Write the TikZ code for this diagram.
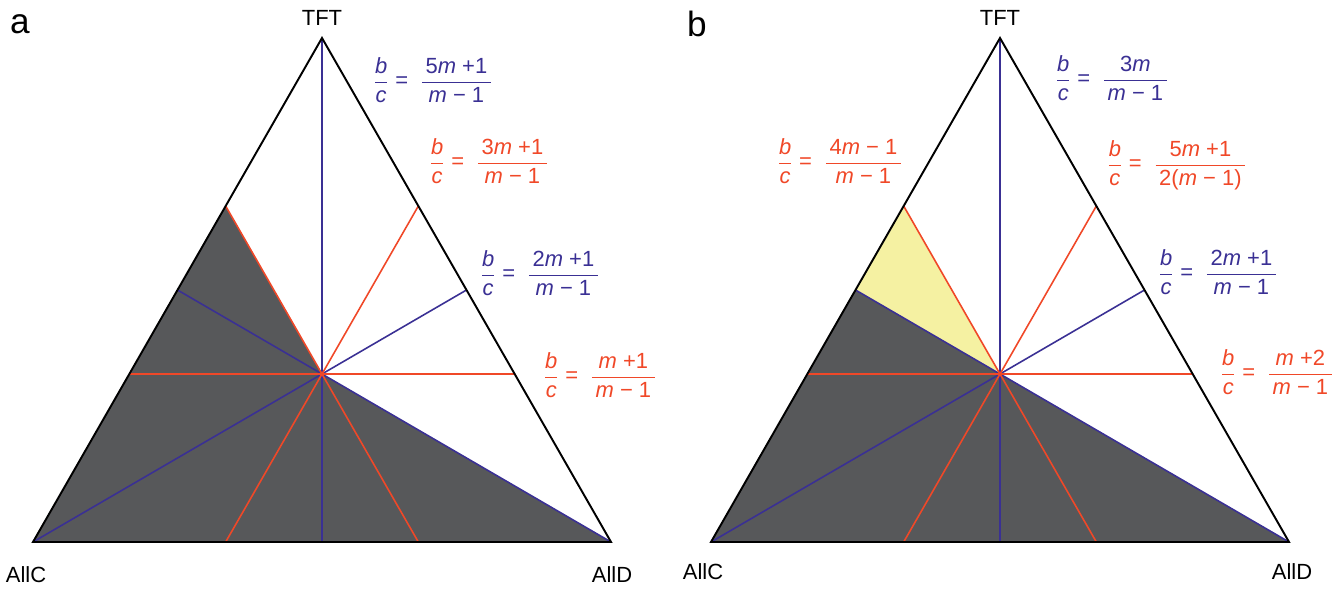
\documentclass[tikz,border=0pt]{standalone}
\usepackage{amsmath}
\usepackage{fontspec}
\setmainfont{Liberation Sans}
\usepackage{tikz}
\usetikzlibrary{calc}

\definecolor{medblue}{RGB}{58,48,148}
\definecolor{parred}{RGB}{240,72,40}
\definecolor{darkfill}{RGB}{87,88,90}
\definecolor{pale}{RGB}{245,241,162}

\newcommand{\bcratio}[2]{$\dfrac{\text{\itshape b}}{\text{\itshape c}}\;\text{=}\;\;\dfrac{\text{\,#1\,}}{\text{\,#2\,}}$}

\begin{document}
\begin{tikzpicture}[
    x=0.02cm, y=-0.02cm,
    side/.style={draw=black, line width=1.1pt, line join=miter},
    median/.style={draw=medblue, line width=0.9pt},
    parallel/.style={draw=parred, line width=0.9pt},
    vertex/.style={font=\fontsize{12.5}{15}\selectfont},
    panel/.style={font=\fontsize{20}{24}\selectfont},
    bluelab/.style={text=medblue, font=\fontsize{12.5}{15}\selectfont, inner sep=0pt},
    redlab/.style={text=parred, font=\fontsize{12.5}{15}\selectfont, inner sep=0pt}
]
\useasboundingbox (0,0) rectangle (1341,590);

% panel a
\coordinate (aT) at (322,38);
\coordinate (aC) at (33,542);
\coordinate (aD) at (611,542);
\coordinate (aO) at (barycentric cs:aT=1,aC=1,aD=1);
\fill[darkfill] (aC) -- ($(aC)!2/3!(aT)$) -- (aO) -- (aD) -- cycle;
\draw[median] (aT) -- ($(aC)!0.5!(aD)$);
\draw[median] (aC) -- ($(aD)!0.5!(aT)$);
\draw[median] (aD) -- ($(aC)!0.5!(aT)$);
\draw[parallel] ($(aC)!1/3!(aT)$) -- ($(aD)!1/3!(aT)$);
\draw[parallel] ($(aC)!2/3!(aT)$) -- ($(aC)!2/3!(aD)$);
\draw[parallel] ($(aD)!2/3!(aT)$) -- ($(aD)!2/3!(aC)$);
\draw[side] (aT) -- (aC) -- (aD) -- cycle;
\node[panel] (alab) at (20,24) {a};
\node[vertex] (aTFT) at (322,18) {TFT};
\node[vertex] (aAllC) at (26,575) {AllC};
\node[vertex] (aAllD) at (612,575) {AllD};
\node[bluelab] (aq1) at (433,80) {\bcratio{5\textit{m} +1}{\textit{m} − 1}};
\node[redlab] (aq2) at (489,161) {\bcratio{3\textit{m} +1}{\textit{m} − 1}};
\node[bluelab] (aq3) at (540,273) {\bcratio{2\textit{m} +1}{\textit{m} − 1}};
\node[redlab] (aq4) at (600,375) {\bcratio{\textit{m} +1}{\textit{m} − 1}};

% panel b
\coordinate (bT) at (1000,38);
\coordinate (bC) at (711,542);
\coordinate (bD) at (1289,542);
\coordinate (bO) at (barycentric cs:bT=1,bC=1,bD=1);
\fill[darkfill] (bC) -- ($(bC)!0.5!(bT)$) -- (bO) -- (bD) -- cycle;
\fill[pale] ($(bC)!0.5!(bT)$) -- ($(bC)!2/3!(bT)$) -- (bO) -- cycle;
\draw[median] (bT) -- ($(bC)!0.5!(bD)$);
\draw[median] (bC) -- ($(bD)!0.5!(bT)$);
\draw[median] (bD) -- ($(bC)!0.5!(bT)$);
\draw[parallel] ($(bC)!1/3!(bT)$) -- ($(bD)!1/3!(bT)$);
\draw[parallel] ($(bC)!2/3!(bT)$) -- ($(bC)!2/3!(bD)$);
\draw[parallel] ($(bD)!2/3!(bT)$) -- ($(bD)!2/3!(bC)$);
\draw[side] (bT) -- (bC) -- (bD) -- cycle;
\node[panel] (blab) at (697,24) {b};
\node[vertex] (bTFT) at (1000,18) {TFT};
\node[vertex] (bAllC) at (703,572) {AllC};
\node[vertex] (bAllD) at (1292,572) {AllD};
\node[bluelab] (bq1) at (1112,78) {\bcratio{3\textit{m}}{\textit{m} − 1}};
\node[redlab] (bq2) at (840,161) {\bcratio{4\textit{m} − 1}{\textit{m} − 1}};
\node[redlab] (bq3) at (1177,165) {\bcratio{5\textit{m} +1}{2(\textit{m} − 1)}};
\node[bluelab] (bq4) at (1218,272) {\bcratio{2\textit{m} +1}{\textit{m} − 1}};
\node[redlab] (bq5) at (1277,372) {\bcratio{\textit{m} +2}{\textit{m} − 1}};
\end{tikzpicture}
\end{document}
